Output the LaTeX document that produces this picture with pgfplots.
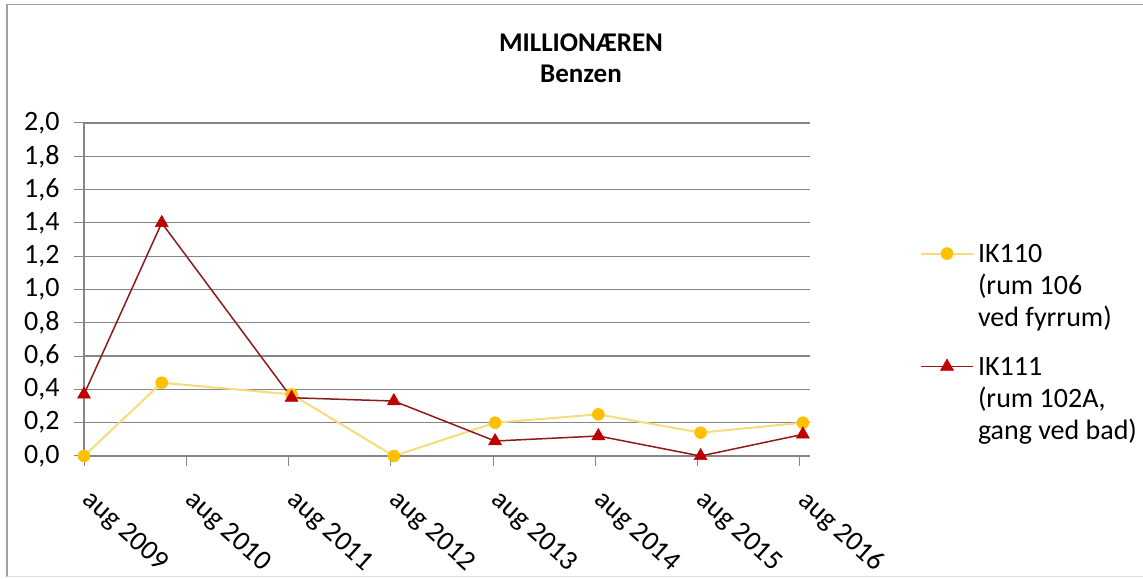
\documentclass[border=0pt]{standalone}
\usepackage{pgfplots}
\pgfplotsset{compat=1.18}
\usepackage{fontspec}
\setmainfont{Carlito}
\definecolor{ylw}{HTML}{FFC000}
\definecolor{ylwline}{HTML}{F9DB7A}
\definecolor{rd}{HTML}{C00000}
\definecolor{rdline}{HTML}{8E1B1B}
\definecolor{gridc}{HTML}{868686}
\begin{document}
\begin{tikzpicture}[x=1bp,y=1bp]
\useasboundingbox (0,0) rectangle (1143,579);
\fill[white] (0,0) rectangle (1143,579);
\draw[gray!75, line width=1.5bp] (7,2) -- (7,574.5) -- (1150,574.5);
\draw[gray!25, line width=1bp] (7,2) -- (1150,2);
\node[font=\fontsize{27bp}{32bp}\selectfont\bfseries, anchor=base, inner sep=0pt] at (581,527.3) {MILLIONÆREN};
\node[font=\fontsize{27bp}{32bp}\selectfont\bfseries, anchor=base, inner sep=0pt] at (581,496) {Benzen};
\begin{axis}[
  at={(84bp,123bp)}, anchor=south west,
  width=726bp, height=333bp, scale only axis,
  xmin=0, xmax=7.1, ymin=0, ymax=2,
  clip=false,
  axis x line=bottom, axis y line=left,
  axis line style={gridc, line width=1.2bp, -},
  ymajorgrids, grid style={gridc, line width=1.2bp},
  tick align=outside, major tick length=10bp,
  tick style={gridc, line width=1bp},
  xtick={0,1,2,3,4,5,6,7},
  xticklabels={aug 2009,aug 2010,aug 2011,aug 2012,aug 2013,aug 2014,aug 2015,aug 2016},
  ytick={0,0.2,0.4,0.6,0.8,1.0,1.2,1.4,1.6,1.8,2.0},
  yticklabel style={xshift=-11bp, /pgf/number format/.cd, use comma, fixed, fixed zerofill, precision=1, assume math mode=true},
  ticklabel style={font=\fontsize{28bp}{32bp}\selectfont},
  xticklabel style={xshift=10bp, yshift=-22bp, rotate=-42, anchor=north west, inner sep=0pt},
  legend style={at={(1.1515,0.648)}, anchor=north west, draw=none, fill=none,
    inner sep=0pt, outer sep=0pt, row sep=89bp, column sep=4bp,
    font=\fontsize{28bp}{32bp}\selectfont, cells={anchor=base west}, nodes={inner sep=0pt}},
  legend image code/.code={\draw[mark repeat=2,mark phase=2,#1,yshift=9bp] plot coordinates {(0bp,0bp) (26bp,0bp) (52bp,0bp)};},
]
\addplot[color=ylwline, line width=2bp, mark=*, mark size=6bp, mark options={fill=ylw, draw=ylw, line width=0.5bp}]
  coordinates {(0,0.00) (0.76,0.44) (2.03,0.37) (3.03,0.00) (4.02,0.20) (5.03,0.25) (6.03,0.14) (7.03,0.20)};
\addlegendentry{\begin{tabular}[t]{@{}l@{}}IK110\\(rum 106\\ved fyrrum)\end{tabular}}
\addplot[color=rdline, line width=1.5bp, mark=triangle*, mark size=7.5bp, mark options={fill=rd, draw=rd, line width=0.5bp}]
  coordinates {(0,0.37) (0.76,1.40) (2.03,0.35) (3.03,0.33) (4.02,0.09) (5.03,0.12) (6.03,0.00) (7.03,0.13)};
\addlegendentry{\begin{tabular}[t]{@{}l@{}}IK111\\(rum 102A,\\gang ved bad)\end{tabular}}
\end{axis}
\end{tikzpicture}
\end{document}
